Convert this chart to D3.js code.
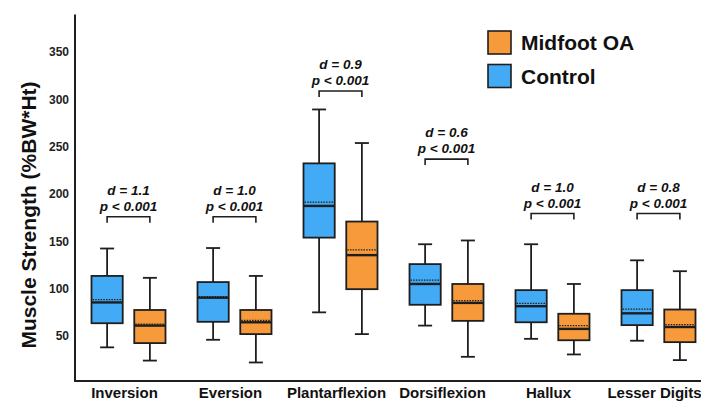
<!DOCTYPE html>
<html>
<head>
<meta charset="utf-8">
<script src="https://cdn.jsdelivr.net/npm/d3@7"></script>
<style>
  body { margin: 0; background: #fff; }
  svg { display: block; font-family: "Liberation Sans", Arial, sans-serif; }
</style>
</head>
<body>
<div id="chart"></div>
<script>
// Categories and groups
const categories = ["Inversion", "Eversion", "Plantarflexion", "Dorsiflexion", "Hallux", "Lesser Digits"];
const groups = ["Control", "Midfoot OA"];

// Box stats: [whiskerLow, q1, median, q3, whiskerHigh, mean]
const controlStats = [
    [38, 63.5, 85.5, 113.5, 142.5, 88.5],
    [46, 65, 90.5, 107, 143, 91.5],
    [75, 154, 187.5, 232.5, 289.5, 191.5],
    [61, 83, 105, 126, 147, 109],
    [47, 64.5, 81.5, 98.5, 147, 84.5],
    [45, 61.5, 74, 98.5, 130, 78.5]
];
const oaStats = [
    [24, 42.5, 61, 77.5, 111.5, 62.5],
    [22, 52, 64.5, 77.5, 113.5, 66.5],
    [52, 99.5, 135.5, 171, 254, 141],
    [28, 66, 85, 105, 151, 87.5],
    [30.5, 45.5, 57.5, 73.5, 105, 61],
    [24.5, 43.5, 59.5, 78, 118.5, 62]
];

// Effect sizes and p-values, with the level of each bracket (in %BW*Ht)
const dValues = ["1.1", "1.0", "0.9", "0.6", "1.0", "0.8"];
const pValues = ["0.001", "0.001", "0.001", "0.001", "0.001", "0.001"];
const bracketLevels = [176, 176, 309, 237, 179.5, 179.5];

const yTicks = [50, 100, 150, 200, 250, 300, 350];

function createChart() {
    const width = 701;
    const height = 402;

    const colors = { "Control": "#43aaf5", "Midfoot OA": "#f69a3b" };
    const stroke = "#1e1e1e";

    // Scales
    const x = d3.scaleBand().domain(categories).range([75.5, 711.5]);
    const xGroup = d3.scaleBand().domain(groups).range([-37, 37]).paddingInner(0.27).paddingOuter(0);
    const y = d3.scaleLinear().domain([2, 390]).range([381.4, 14.4]);

    const svg = d3.create("svg")
        .attr("width", width)
        .attr("height", height)
        .attr("viewBox", [0, 0, width, height]);

    // Axes lines (no ticks)
    svg.append("line")
        .attr("x1", 75).attr("x2", 75)
        .attr("y1", y(390)).attr("y2", 382)
        .attr("stroke", stroke).attr("stroke-width", 2);
    svg.append("line")
        .attr("x1", 74).attr("x2", width)
        .attr("y1", 381).attr("y2", 381)
        .attr("stroke", stroke).attr("stroke-width", 2);

    // Y tick labels
    svg.append("g")
        .selectAll("text")
        .data(yTicks)
        .join("text")
        .attr("x", 69)
        .attr("y", d => y(d))
        .attr("dy", "0.35em")
        .attr("text-anchor", "end")
        .attr("font-size", 12)
        .attr("font-weight", "bold")
        .attr("fill", "#222")
        .text(d => d);

    // Y title
    svg.append("text")
        .attr("transform", "translate(36,215) rotate(-90)")
        .attr("text-anchor", "middle")
        .attr("font-size", 21)
        .attr("font-weight", "bold")
        .attr("fill", "#111")
        .text("Muscle Strength (%BW*Ht)");

    // Category labels
    svg.append("g")
        .selectAll("text")
        .data(categories)
        .join("text")
        .attr("x", d => x(d) + x.bandwidth() / 2 - 4)
        .attr("y", 398)
        .attr("text-anchor", "middle")
        .attr("font-size", 15)
        .attr("font-weight", "bold")
        .attr("fill", "#111")
        .text(d => d);

    // Boxes
    const boxes = [];
    categories.forEach((c, i) => {
        boxes.push({ cat: c, group: "Control", s: controlStats[i] });
        boxes.push({ cat: c, group: "Midfoot OA", s: oaStats[i] });
    });

    const bw = xGroup.bandwidth();
    const box = svg.append("g")
        .selectAll("g")
        .data(boxes)
        .join("g")
        .attr("transform", d => `translate(${x(d.cat) + x.bandwidth() / 2 + xGroup(d.group)},0)`);

    // whisker stems
    box.append("line")
        .attr("x1", bw / 2).attr("x2", bw / 2)
        .attr("y1", d => y(d.s[0])).attr("y2", d => y(d.s[4]))
        .attr("stroke", stroke).attr("stroke-width", 1.8);
    // whisker caps
    box.selectAll("line.cap")
        .data(d => [d.s[0], d.s[4]])
        .join("line")
        .attr("class", "cap")
        .attr("x1", bw / 2 - 7).attr("x2", bw / 2 + 7)
        .attr("y1", v => y(v)).attr("y2", v => y(v))
        .attr("stroke", stroke).attr("stroke-width", 1.8);
    // box
    box.append("rect")
        .attr("x", 0)
        .attr("width", bw)
        .attr("y", d => y(d.s[3]))
        .attr("height", d => y(d.s[1]) - y(d.s[3]))
        .attr("fill", d => colors[d.group])
        .attr("stroke", stroke)
        .attr("stroke-width", 1.8);
    // mean (dotted)
    box.append("line")
        .attr("x1", 1).attr("x2", bw - 1)
        .attr("y1", d => y(d.s[5])).attr("y2", d => y(d.s[5]))
        .attr("stroke", stroke).attr("stroke-width", 1.3)
        .attr("stroke-dasharray", "1.5,1.2");
    // median
    box.append("line")
        .attr("x1", 0).attr("x2", bw)
        .attr("y1", d => y(d.s[2])).attr("y2", d => y(d.s[2]))
        .attr("stroke", stroke).attr("stroke-width", 2.4);

    // Significance brackets and labels
    const ann = svg.append("g")
        .selectAll("g")
        .data(categories)
        .join("g")
        .attr("transform", (d, i) => `translate(${x(d) + x.bandwidth() / 2},${y(bracketLevels[i])})`);

    const bx1 = xGroup("Control") + bw / 2;
    const bx2 = xGroup("Midfoot OA") + bw / 2;
    ann.append("path")
        .attr("d", `M${bx1},6V0H${bx2}V6`)
        .attr("fill", "none")
        .attr("stroke", stroke)
        .attr("stroke-width", 1.6);

    ann.append("text")
        .attr("y", -22)
        .attr("text-anchor", "middle")
        .attr("font-size", 13.5)
        .attr("font-weight", "bold")
        .attr("font-style", "italic")
        .attr("fill", "#111")
        .text((d, i) => `d = ${dValues[i]}`);
    ann.append("text")
        .attr("y", -6)
        .attr("text-anchor", "middle")
        .attr("font-size", 13.5)
        .attr("font-weight", "bold")
        .attr("font-style", "italic")
        .attr("fill", "#111")
        .text((d, i) => `p < ${pValues[i]}`);

    // Legend
    const legendItems = ["Midfoot OA", "Control"];
    const legend = svg.append("g")
        .attr("transform", "translate(488,31)");
    const item = legend.selectAll("g")
        .data(legendItems)
        .join("g")
        .attr("transform", (d, i) => `translate(0,${i * 33.5})`);
    item.append("rect")
        .attr("width", 23)
        .attr("height", 23)
        .attr("fill", d => colors[d])
        .attr("stroke", stroke)
        .attr("stroke-width", 1.6);
    item.append("text")
        .attr("x", 33)
        .attr("y", 11.5)
        .attr("dy", "0.36em")
        .attr("font-size", 21)
        .attr("font-weight", "bold")
        .attr("fill", "#111")
        .text(d => d);

    return svg.node();
}

document.querySelector("#chart").appendChild(createChart());
</script>
</body>
</html>
